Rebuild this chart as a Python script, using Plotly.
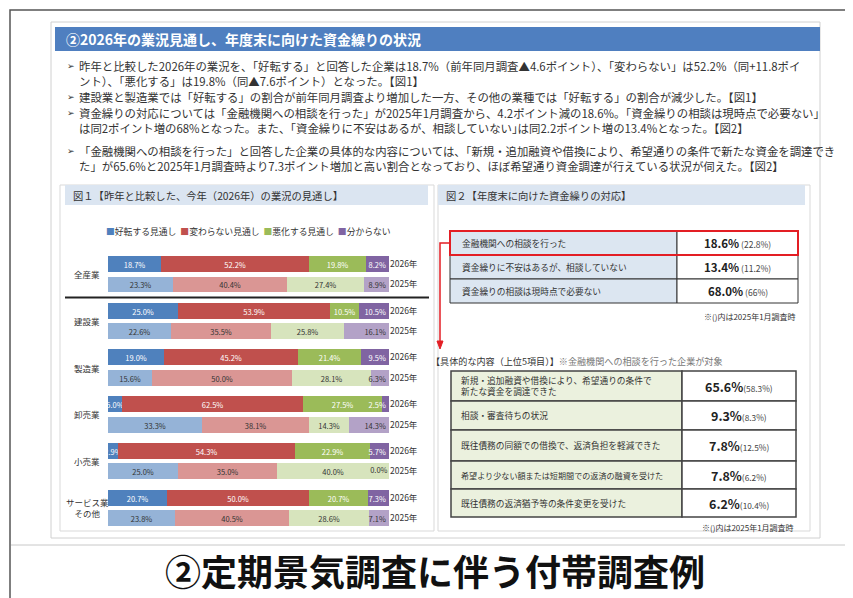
import plotly.graph_objects as go

W, H = 853, 598
FONT = "Noto Sans CJK JP"

# ---------------- data ----------------
industries = ["全産業", "建設業", "製造業", "卸売業", "小売業", "サービス業<br>その他"]
years = ["2026年", "2025年"]
series_names = ["好転する見通し", "変わらない見通し", "悪化する見通し", "分からない"]

improve_2026 = [18.7, 25.0, 19.0, 5.0, 2.9, 20.7]
unchanged_2026 = [52.2, 53.9, 45.2, 62.5, 54.3, 50.0]
worsen_2026 = [19.8, 10.5, 21.4, 27.5, 22.9, 20.7]
unknown_2026 = [8.2, 10.5, 9.5, 2.5, 5.7, 7.3]

improve_2025 = [23.3, 22.6, 15.6, 33.3, 25.0, 23.8]
unchanged_2025 = [40.4, 35.5, 50.0, 38.1, 35.0, 40.5]
worsen_2025 = [27.4, 25.8, 28.1, 14.3, 40.0, 28.6]
unknown_2025 = [8.9, 16.1, 6.3, 14.3, 0.0, 7.1]

fund_labels = ["金融機関への相談を行った",
               "資金繰りに不安はあるが、相談していない",
               "資金繰りの相談は現時点で必要ない"]
fund_now = [18.6, 13.4, 68.0]
fund_prev = [22.8, 11.2, 66]

detail_labels = ["新規・追加融資や借換により、希望通りの条件で<br>新たな資金を調達できた",
                 "相談・審査待ちの状況",
                 "既往債務の同額での借換で、返済負担を軽減できた",
                 "希望より少ない額または短期間での返済の融資を受けた",
                 "既往債務の返済猶予等の条件変更を受けた"]
detail_now = [65.6, 9.3, 7.8, 7.8, 6.2]
detail_prev = [58.3, 8.3, 12.5, 6.2, 10.4]

title_text = "②2026年の業況見通し、年度末に向けた資金繰りの状況"
bullets = [
    ["昨年と比較した2026年の業況を、「好転する」と回答した企業は18.7%（前年同月調査▲4.6ポイント）、「変わらない」は52.2%（同+11.8ポイ",
     "ント）、「悪化する」は19.8%（同▲7.6ポイント）となった。【図1】"],
    ["建設業と製造業では「好転する」の割合が前年同月調査より増加した一方、その他の業種では「好転する」の割合が減少した。【図1】"],
    ["資金繰りの対応については「金融機関への相談を行った」が2025年1月調査から、4.2ポイント減の18.6%。「資金繰りの相談は現時点で必要ない」",
     "は同2ポイント増の68%となった。また、｢資金繰りに不安はあるが、相談していない｣は同2.2ポイント増の13.4%となった。【図2】"],
    ["「金融機関への相談を行った」と回答した企業の具体的な内容については、「新規・追加融資や借換により、希望通りの条件で新たな資金を調達でき",
     "た」が65.6%と2025年1月調査時より7.3ポイント増加と高い割合となっており、ほぼ希望通り資金調達が行えている状況が伺えた。【図2】"],
]
bullet_rows = [[58, 73], [89], [105, 120], [143, 158]]
fig1_title = "図１【昨年と比較した、今年（2026年）の業況の見通し】"
fig2_title = "図２【年度末に向けた資金繰りの対応】"
detail_title = "【具体的な内容（上位5項目）】<span style='color:#777'>※金融機関への相談を行った企業が対象</span>"
note_text = "※()内は2025年1月調査時"
bottom_title = "②定期景気調査に伴う付帯調査例"

colors_2026 = ["#4f81bd", "#c0504d", "#9bbb59", "#8064a2"]
colors_2025 = ["#95b3d7", "#da9694", "#d7e4bd", "#b3a2c7"]


def fx(x):
    return x / W


def fy(y):
    return 1 - y / H


# ---------------- figure ----------------
fig = go.Figure()

GROUP_PITCH = 2.28
U = 20.5          # px per y unit
Y0_PX = 256       # pixel center of first bar
pos_2026 = [g * GROUP_PITCH for g in range(len(industries))]
pos_2025 = [g * GROUP_PITCH + 1 for g in range(len(industries))]

data_2026 = [improve_2026, unchanged_2026, worsen_2026, unknown_2026]
data_2025 = [improve_2025, unchanged_2025, worsen_2025, unknown_2025]

last = len(series_names) - 1
for data, pos, cols, tcol, tag in [(data_2026, pos_2026, colors_2026, "white", ""),
                                   (data_2025, pos_2025, colors_2025, "#333333", " 2025")]:
    for i, name in enumerate(series_names):
        fig.add_trace(go.Bar(
            x=data[i], y=pos, orientation="h", name=name + tag,
            marker=dict(color=cols[i], line=dict(width=0)),
            text=[f"{v:.1f}%" for v in data[i]], textposition="inside",
            insidetextanchor="end" if i == last else "middle",
            textangle=0, constraintext="none",
            textfont=dict(size=7.5, color=tcol, family=FONT),
            width=0.78, showlegend=False, cliponaxis=False, hoverinfo="skip"))
    # labels of zero-width segments (drawn at the right end of the stack)
    zx = [99.5 for v in data[-1] if v == 0]
    zy = [p for v, p in zip(data[-1], pos) if v == 0]
    zt = [f"{v:.1f}%" for v in data[-1] if v == 0]
    if zx:
        fig.add_trace(go.Scatter(x=zx, y=zy, text=zt, mode="text", textposition="middle left",
                                 textfont=dict(size=7.5, color="#333333", family=FONT),
                                 showlegend=False, cliponaxis=False, hoverinfo="skip"))

top_px, bot_px = 244, 522
fig.update_layout(
    width=W, height=H, margin=dict(l=0, r=0, t=0, b=0),
    paper_bgcolor="white", plot_bgcolor="rgba(0,0,0,0)",
    barmode="stack", barnorm="percent", bargap=0,
    font=dict(family=FONT, color="#333333"),
    xaxis=dict(domain=[fx(100), fx(381)], range=[0, 100.02], visible=False, fixedrange=True),
    yaxis=dict(domain=[fy(bot_px), fy(top_px)],
               range=[(bot_px - Y0_PX) / U, (top_px - Y0_PX) / U],
               tickmode="array",
               tickvals=pos_2026 + pos_2025,
               ticktext=[years[0]] * len(pos_2026) + [years[1]] * len(pos_2025),
               side="right", showgrid=False, zeroline=False, showline=False,
               ticks="", ticklabelstandoff=0,
               tickfont=dict(size=8.5, color="#333333", family=FONT)),
)

shapes = []
ann = []

# outer frame
shapes.append(dict(type="rect", xref="paper", yref="paper", x0=fx(2), x1=fx(851), y0=fy(596), y1=fy(2),
                   line=dict(color="#555555", width=1.5), layer="below"))
# slide frame
shapes.append(dict(type="rect", xref="paper", yref="paper", x0=fx(43), x1=fx(812), y0=fy(530), y1=fy(14),
                   line=dict(color="#d0d0d0", width=1), layer="below"))
shapes.append(dict(type="line", xref="paper", yref="paper", x0=fx(3), x1=fx(850), y0=fy(537), y1=fy(537),
                   line=dict(color="#c8c8c8", width=1)))
# title bar
shapes.append(dict(type="rect", xref="paper", yref="paper", x0=fx(47), x1=fx(812), y0=fy(43), y1=fy(19),
                   fillcolor="#4f7fc0", line=dict(width=0), layer="below"))
ann.append(dict(text=f"<b>{title_text}</b>", x=fx(56), y=fy(31), xref="paper", yref="paper",
                xanchor="left", yanchor="middle", showarrow=False,
                font=dict(size=14, color="white", family=FONT)))

# bullets
for lines, rows in zip(bullets, bullet_rows):
    ann.append(dict(text="➢", x=fx(57), y=fy(rows[0]), xref="paper", yref="paper",
                    xanchor="left", yanchor="middle", showarrow=False,
                    font=dict(size=9, color="#333333", family="DejaVu Sans")))
    for line, r in zip(lines, rows):
        ann.append(dict(text=line, x=fx(69), y=fy(r), xref="paper", yref="paper",
                        xanchor="left", yanchor="middle", showarrow=False,
                        font=dict(size=11.4, color="#333333", family=FONT)))

# panels
shapes.append(dict(type="rect", xref="paper", yref="paper", x0=fx(52), x1=fx(426), y0=fy(523), y1=fy(177),
                   line=dict(color="#d9d9d9", width=1), fillcolor="white", layer="below"))
shapes.append(dict(type="rect", xref="paper", yref="paper", x0=fx(430), x1=fx(802), y0=fy(523), y1=fy(177),
                   line=dict(color="#d9d9d9", width=1), fillcolor="white", layer="below"))
for x0, x1, t in [(57, 420, fig1_title), (430, 797, fig2_title)]:
    shapes.append(dict(type="rect", xref="paper", yref="paper", x0=fx(x0), x1=fx(x1), y0=fy(197), y1=fy(177),
                       fillcolor="#dbe5f1", line=dict(width=0), layer="below"))
    ann.append(dict(text=t, x=fx(x0 + 6), y=fy(187), xref="paper", yref="paper",
                    xanchor="left", yanchor="middle", showarrow=False,
                    font=dict(size=10.3, color="#333333", family=FONT)))

# legend
legend_txt = "  ".join(f"<span style='color:{c}'>■</span>{n}" for c, n in zip(colors_2026, series_names))
ann.append(dict(text=legend_txt, x=fx(240), y=fy(224), xref="paper", yref="paper",
                xanchor="center", yanchor="middle", showarrow=False,
                font=dict(size=8.8, color="#333333", family=FONT)))

# industry labels
for g, name in enumerate(industries):
    ann.append(dict(text=name, x=fx(79), y=(pos_2026[g] + pos_2025[g]) / 2, xref="paper", yref="y",
                    xanchor="center", yanchor="middle", showarrow=False,
                    font=dict(size=8.5, color="#333333", family=FONT)))
# separator under 全産業
sep_y = (pos_2025[0] + pos_2026[1]) / 2
shapes.append(dict(type="line", xref="paper", yref="y", x0=fx(57), x1=fx(421), y0=sep_y, y1=sep_y,
                   line=dict(color="#222222", width=2)))


def fmt_prev(v):
    return f"{v:g}%"


# table 1
t1_x = [442, 669, 790]
t1_y = [223, 247, 271, 295]
for r, lab in enumerate(fund_labels):
    y0, y1 = t1_y[r], t1_y[r + 1]
    shapes.append(dict(type="rect", xref="paper", yref="paper", x0=fx(t1_x[0]), x1=fx(t1_x[1]),
                       y0=fy(y1), y1=fy(y0), fillcolor="#dce6f1", line=dict(color="#333333", width=1)))
    shapes.append(dict(type="rect", xref="paper", yref="paper", x0=fx(t1_x[1]), x1=fx(t1_x[2]),
                       y0=fy(y1), y1=fy(y0), fillcolor="white", line=dict(color="#333333", width=1)))
    ann.append(dict(text=lab, x=fx(t1_x[0] + 10), y=fy((y0 + y1) / 2), xref="paper", yref="paper",
                    xanchor="left", yanchor="middle", showarrow=False,
                    font=dict(size=8.7, color="#333333", family=FONT)))
    ann.append(dict(text=f"<b>{fund_now[r]:.1f}%</b><span style='font-size:8.5px;color:#444'> ({fmt_prev(fund_prev[r])})</span>",
                    x=fx((t1_x[1] + t1_x[2]) / 2), y=fy((y0 + y1) / 2), xref="paper", yref="paper",
                    xanchor="center", yanchor="middle", showarrow=False,
                    font=dict(size=11.5, color="#222222", family=FONT)))
# red highlight + arrow
shapes.append(dict(type="rect", xref="paper", yref="paper", x0=fx(t1_x[0]), x1=fx(t1_x[2]),
                   y0=fy(t1_y[1]), y1=fy(t1_y[0]), line=dict(color="#e31e24", width=2)))
shapes.append(dict(type="path", xref="paper", yref="paper",
                   path=f"M {fx(442)} {fy(235)} L {fx(432)} {fy(235)} L {fx(432)} {fy(334)}",
                   line=dict(color="#e31e24", width=1.5)))
shapes.append(dict(type="path", xref="paper", yref="paper",
                   path=f"M {fx(429)} {fy(333)} L {fx(435)} {fy(333)} L {fx(432)} {fy(341)} Z",
                   fillcolor="#e31e24", line=dict(color="#e31e24", width=1)))
ann.append(dict(text=note_text, x=fx(790), y=fy(308), xref="paper", yref="paper",
                xanchor="right", yanchor="middle", showarrow=False,
                font=dict(size=8, color="#333333", family=FONT)))

# detail title
ann.append(dict(text=detail_title, x=fx(421), y=fy(353), xref="paper", yref="paper",
                xanchor="left", yanchor="middle", showarrow=False,
                font=dict(size=9.1, color="#333333", family=FONT)))

# table 2
t2_x = [443, 674, 788]
t2_y = [363, 393, 422, 453, 481, 509]
for r, lab in enumerate(detail_labels):
    y0, y1 = t2_y[r], t2_y[r + 1]
    shapes.append(dict(type="rect", xref="paper", yref="paper", x0=fx(t2_x[0]), x1=fx(t2_x[1]),
                       y0=fy(y1), y1=fy(y0), fillcolor="#ebf1de", line=dict(color="#444444", width=1.5)))
    shapes.append(dict(type="rect", xref="paper", yref="paper", x0=fx(t2_x[1]), x1=fx(t2_x[2]),
                       y0=fy(y1), y1=fy(y0), fillcolor="white", line=dict(color="#444444", width=1.5)))
    ann.append(dict(text=lab, x=fx(t2_x[0] + 8), y=fy((y0 + y1) / 2), xref="paper", yref="paper",
                    xanchor="left", yanchor="middle", showarrow=False, align="left",
                    font=dict(size=8.1 if r == 3 else 8.7, color="#333333", family=FONT)))
    ann.append(dict(text=f"<b>{detail_now[r]:.1f}%</b><span style='font-size:8.3px;color:#444'>({detail_prev[r]:.1f}%)</span>",
                    x=fx((t2_x[1] + t2_x[2]) / 2), y=fy((y0 + y1) / 2), xref="paper", yref="paper",
                    xanchor="center", yanchor="middle", showarrow=False,
                    font=dict(size=12.5, color="#222222", family=FONT)))
ann.append(dict(text=note_text, x=fx(788), y=fy(519), xref="paper", yref="paper",
                xanchor="right", yanchor="middle", showarrow=False,
                font=dict(size=8, color="#333333", family=FONT)))

# bottom title
ann.append(dict(text=f"<b>{bottom_title}</b>", x=fx(427), y=fy(562), xref="paper", yref="paper",
                xanchor="center", yanchor="middle", showarrow=False,
                font=dict(size=36, color="#111111", family=FONT)))

fig.update_layout(shapes=shapes, annotations=ann)
fig.write_html("out.html")
